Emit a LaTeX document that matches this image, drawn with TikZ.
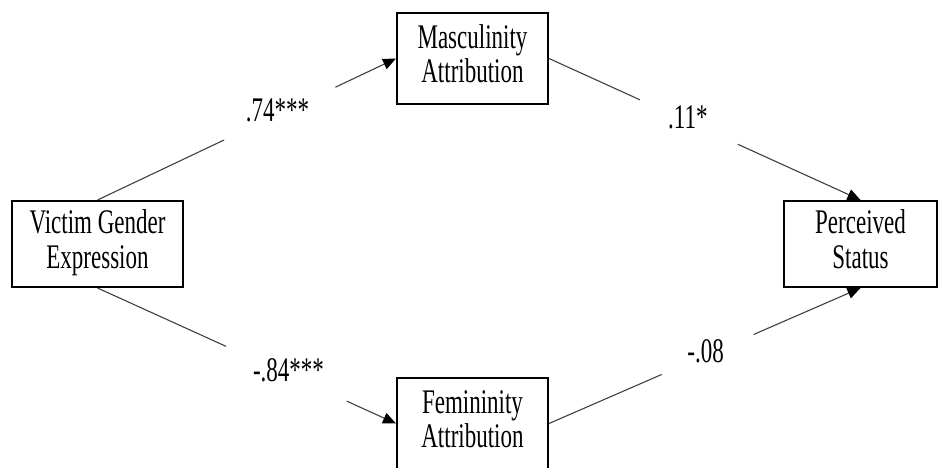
\documentclass[tikz,border=0pt]{standalone}
\usepackage{fontspec}
\setmainfont{Liberation Serif}
\usetikzlibrary{arrows.meta,calc}

% tall, narrow lettering used throughout the path model
\newcommand{\tallt}[1]{\scalebox{1}[1.5]{\begin{tabular}{@{}c@{}}#1\end{tabular}}}

\tikzset{
  varbox/.style={draw=black, line width=2pt, fill=white, inner sep=0pt,
    minimum width=#1, minimum height=86pt, align=center},
  conn/.style={draw=black!75, line width=1.1pt},
  tip/.style={conn, -{Triangle[length=13pt,width=11pt,color=black]}},
  coef/.style={inner sep=0pt, anchor=center},
}

\begin{document}
\begin{tikzpicture}[x=1pt, y=-1pt, font=\fontsize{23}{23}\selectfont]
  \useasboundingbox (0,0) rectangle (938,468);

  % variables
  \node[varbox=171pt] (vge) at (97.5,244) {\tallt{Victim Gender\\Expression}};
  \node[varbox=151pt, minimum height=91pt] (mas) at (472.5,58.5) {\tallt{Masculinity\\Attribution}};
  \node[varbox=151pt, minimum height=91pt] (fem) at (472.5,423.5) {\tallt{Femininity\\Attribution}};
  \node[varbox=153pt] (ps) at (860.5,244) {\tallt{Perceived\\Status}};

  % a paths, broken around the coefficients
  \draw[conn] (vge.north) -- ($(vge.north)!0.424!(mas.west)$);
  \draw[tip] ($(vge.north)!0.797!(mas.west)$) -- (mas.west);
  \node[coef] (a1) at ($(vge.north)!0.603!(mas.west)$) {\tallt{.74***}};

  \draw[conn] (vge.south) -- ($(vge.south)!0.431!(fem.west)$);
  \draw[tip] ($(vge.south)!0.835!(fem.west)$) -- (fem.west);
  \node[coef] (a2) at ($(vge.south)!0.64!(fem.west)$) {\tallt{-.84***}};

  % b paths
  \draw[conn] (mas.east) -- ($(mas.east)!0.292!(ps.north)$);
  \draw[tip] ($(mas.east)!0.606!(ps.north)$) -- (ps.north);
  \node[coef] (b1) at ($(mas.east)!0.446!(ps.north)$) {\tallt{.11*}};

  \draw[conn] (fem.east) -- ($(fem.east)!0.362!(ps.south)$);
  \draw[tip] ($(fem.east)!0.657!(ps.south)$) -- (ps.south);
  \node[coef] (b2) at ($(fem.east)!0.503!(ps.south)$) {\tallt{-.08}};
\end{tikzpicture}
\end{document}
